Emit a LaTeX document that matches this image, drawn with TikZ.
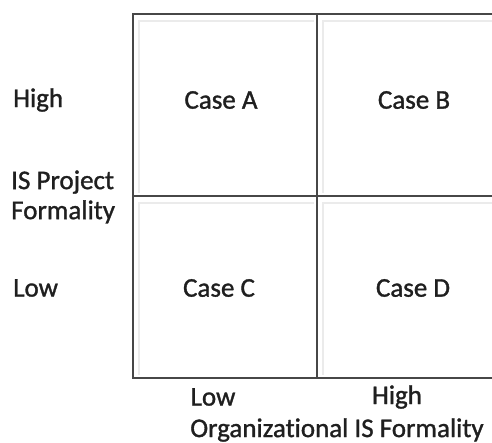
\documentclass[tikz,border=0pt]{standalone}
\usepackage{fontspec}
\setmainfont{Carlito}
\newfontfamily\lblfont{Carlito}[FakeBold=1.2, Ligatures=NoCommon]
\tikzset{
  grid line/.style={line width=2pt, draw=black!72},
  shade line/.style={line width=1.5pt, draw=black!8},
  case label/.style={font=\lblfont\fontsize{27}{30}\selectfont, text=black!88, inner sep=0pt},
  axis label/.style={font=\lblfont\fontsize{27}{30}\selectfont, text=black!88, align=left, inner sep=0pt}
}
\begin{document}
\begin{tikzpicture}[x=1pt, y=-1pt]
    \useasboundingbox (0,0) rectangle (492,443);
    % Faint inner shadows of the cells
    \foreach \xa/\ya/\xb/\yb in {133/14/317/196, 317/14/501/196, 133/196/317/378, 317/196/501/378} {
    	\draw[shade line] (\xa+6,\yb-3) -- (\xa+6,\ya+7) -- (\xb-3,\ya+7);
    }
    % Grid
    \coordinate (tl) at (133,14);
    \coordinate (br) at (501,378);
    \draw[grid line] (tl) rectangle (br);
    \draw[grid line] (317,14) -- (317,378);
    \draw[grid line] (133,196) -- (501,196);

    % Cases
    \node[case label] (caseA) at (221,100) {Case A};
    \node[case label] (caseB) at (414,100) {Case B};
    \node[case label] (caseC) at (219,288) {Case C};
    \node[case label] (caseD) at (413,288) {Case D};

    % Vertical axis
    \node[axis label, anchor=west] (yhigh) at (13,100) {High};
    \node[axis label, anchor=west] (ytitle) at (11,197) {IS Project\\Formality};
    \node[axis label, anchor=west] (ylow) at (13,288) {Low};

    % Horizontal axis
    \node[axis label] (xlow) at (213,397) {Low};
    \node[axis label] (xhigh) at (397,397) {High};
    \node[axis label] (xtitle) at (337,430) {Organizational IS Formality};
\end{tikzpicture}
\end{document}
